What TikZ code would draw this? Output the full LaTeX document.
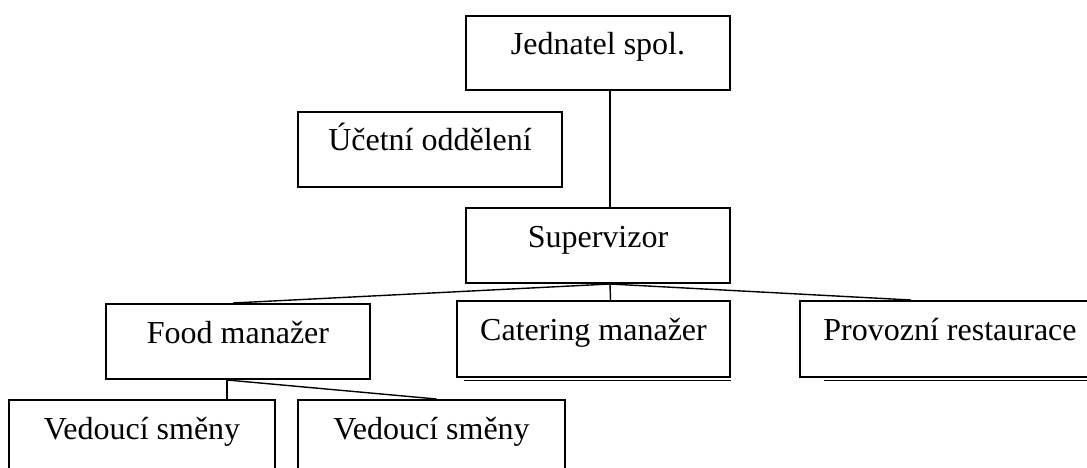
\documentclass[tikz,border=0pt]{standalone}
\usepackage{fontspec}
\setmainfont{Liberation Serif}
\usetikzlibrary{calc}
\begin{document}
\begin{tikzpicture}[x=1pt,y=-1pt,
  box/.style={draw,line width=2pt,inner sep=0pt,anchor=north west},
  txt/.style={anchor=base,inner sep=0pt,font=\fontsize{32}{36}\selectfont},
  conn/.style={line width=1.4pt},
  shadowline/.style={line width=1.8pt}]
\clip (0,0) rectangle (1087,468);
\fill[white] (0,0) rectangle (1087,468);
% boxes
\node[box,minimum width=264pt,minimum height=74pt] (jed) at (465,15) {};
\node[box,minimum width=264pt,minimum height=75pt] (uce) at (297,111) {};
\node[box,minimum width=264pt,minimum height=75pt] (sup) at (465,207) {};
\node[box,minimum width=264pt,minimum height=75pt] (food) at (105,303) {};
\node[box,minimum width=273pt,minimum height=76pt] (cat) at (456,300) {};
\node[box,minimum width=300pt,minimum height=76pt] (prov) at (799,300) {};
\node[box,minimum width=266pt,minimum height=76pt] (ved1) at (8,399) {};
\node[box,minimum width=267pt,minimum height=76pt] (ved2) at (297,399) {};
% texts
\node[txt] (jedT) at ($(jed.north)+(0,40)$) {Jednatel spol.};
\node[txt] (uceT) at ($(uce.north)+(0,40)$) {Účetní oddělení};
\node[txt] (supT) at ($(sup.north)+(0,40)$) {Supervizor};
\node[txt] (foodT) at ($(food.north)+(0,40)$) {Food manažer};
\node[txt] (catT) at ($(cat.north)+(0,40)$) {Catering manažer};
\node[txt] (provT) at ($(prov.north)+(0,40)$) {Provozní restaurace};
\node[txt] (ved1T) at ($(ved1.north)+(0,40)$) {Vedoucí směny};
\node[txt] (ved2T) at ($(ved2.north)+(0,40)$) {Vedoucí směny};
% shadow lines
\draw[shadowline] ($(cat.south west)+(8,2.5)$) -- ($(cat.south east)+(0,2.5)$);
\draw[shadowline] ($(prov.south west)+(25,2.5)$) -- ($(prov.south east)+(0,2.5)$);
% connectors
\coordinate (sb) at ($(sup.south)+(12,0)$);
\coordinate (fb) at ($(food.south)+(-11,0)$);
\draw[conn] ($(jed.south)+(12,0)$) -- ($(sup.north)+(12,0)$);
\draw[conn] (sb) -- ($(cat.north)+(17,0)$);
\draw[conn] (sb) -- ($(food.north)+(-5,0)$);
\draw[conn] (sb) -- ($(prov.north)+(-39,0)$);
\draw[conn] (fb) -- (fb |- ved1.north);
\draw[conn] (fb) -- ($(ved2.north)+(5,0)$);
\end{tikzpicture}
\end{document}
